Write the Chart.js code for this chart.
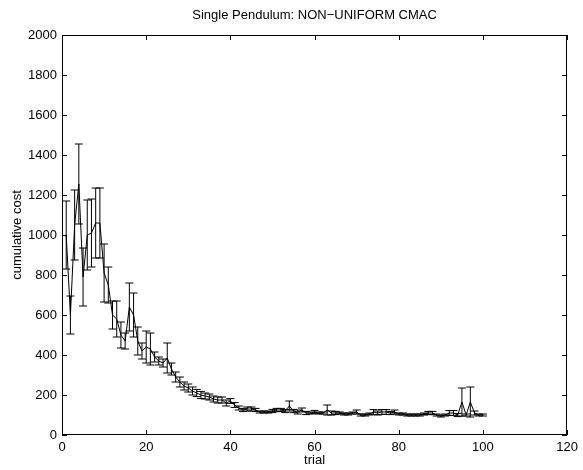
<!DOCTYPE html>
<html>
<head>
<meta charset="utf-8">
<script src="https://cdn.jsdelivr.net/npm/chart.js@4"></script>
<style>
html,body{margin:0;padding:0;background:#fff;}
#wrap{width:583px;height:470px;position:relative;}
</style>
</head>
<body>
<div id="wrap"><canvas id="c" width="583" height="470"></canvas></div>
<script>
const chartTitle = 'Single Pendulum: NON\u2212UNIFORM CMAC';
const xLabel = 'trial';
const yLabel = 'cumulative cost';

const trials = [1,2,3,4,5,6,7,8,9,10,11,12,13,14,15,16,17,18,19,20,
21,22,23,24,25,26,27,28,29,30,31,32,33,34,35,36,37,38,39,40,
41,42,43,44,45,46,47,48,49,50,51,52,53,54,55,56,57,58,59,60,
61,62,63,64,65,66,67,68,69,70,71,72,73,74,75,76,77,78,79,80,
81,82,83,84,85,86,87,88,89,90,91,92,93,94,95,96,97,98,99,100];

const meanCost = [1000,600,1050,1255,790,1000,1010,1060,1060,810,
750,600,580,500,470,640,600,470,420,440,
430,390,370,360,385,330,290,265,245,235,
220,210,200,195,190,180,175,175,160,170,
150,135,125,130,130,125,115,115,115,120,
125,125,120,145,120,115,125,110,110,115,
110,110,125,110,110,110,105,105,110,115,
100,100,105,115,110,115,115,110,115,105,
105,100,100,100,100,105,110,110,100,95,
100,110,110,100,165,100,165,110,100,100];

const errCost = [170,95,175,200,145,175,170,175,175,145,
90,70,90,65,40,120,110,70,40,80,
80,25,20,20,75,30,25,25,20,20,
20,18,18,15,15,15,15,15,15,12,
12,10,8,10,10,8,5,5,5,8,
8,8,8,25,8,10,10,8,5,8,
5,5,25,10,8,5,5,5,5,10,
5,5,5,12,10,12,12,8,10,5,
5,5,5,5,5,5,8,8,5,5,
5,12,12,8,70,5,75,10,5,5];

const xTicks = [0,20,40,60,80,100,120];
const yTicks = [0,200,400,600,800,1000,1200,1400,1600,1800,2000];

const FONT = 'Liberation Sans, Arial, Helvetica, sans-serif';
const FS = 13;

const framePlugin = {
  id: 'frame',
  afterDatasetsDraw(chart) {
    const {ctx, chartArea: a, scales: {x, y}} = chart;
    ctx.save();
    ctx.strokeStyle = '#000';
    ctx.lineWidth = 1;
    ctx.beginPath();
    for (let i = 0; i < trials.length; i++) {
      const px = x.getPixelForValue(trials[i]);
      const yt = y.getPixelForValue(meanCost[i] + errCost[i]);
      const yb = y.getPixelForValue(meanCost[i] - errCost[i]);
      ctx.moveTo(px, yt); ctx.lineTo(px, yb);
      ctx.moveTo(px - 4, yt); ctx.lineTo(px + 4, yt);
      ctx.moveTo(px - 4, yb); ctx.lineTo(px + 4, yb);
    }
    ctx.stroke();
    ctx.strokeRect(Math.round(a.left) + 0.5, Math.round(a.top) + 0.5,
      Math.round(a.right - a.left) - 1, Math.round(a.bottom - a.top) - 1);
    const tl = 5;
    ctx.beginPath();
    xTicks.forEach(v => {
      const px = Math.round(x.getPixelForValue(v)) + 0.5;
      ctx.moveTo(px, a.bottom); ctx.lineTo(px, a.bottom - tl);
      ctx.moveTo(px, a.top); ctx.lineTo(px, a.top + tl);
    });
    yTicks.forEach(v => {
      const py = Math.round(y.getPixelForValue(v)) + 0.5;
      ctx.moveTo(a.left, py); ctx.lineTo(a.left + tl, py);
      ctx.moveTo(a.right, py); ctx.lineTo(a.right - tl, py);
    });
    ctx.stroke();
    ctx.fillStyle = '#000';
    ctx.font = FS + 'px ' + FONT;
    ctx.textAlign = 'center';
    ctx.textBaseline = 'middle';
    ctx.fillText(chartTitle, (a.left + a.right) / 2, 15);
    ctx.restore();
  }
};

new Chart(document.getElementById('c'), {
  type: 'line',
  data: {
    datasets: [{
      data: trials.map((t, i) => ({x: t, y: meanCost[i]})),
      borderColor: '#000',
      borderWidth: 1,
      pointRadius: 0,
      tension: 0,
      fill: false
    }]
  },
  options: {
    responsive: false,
    animation: false,
    devicePixelRatio: 1,
    layout: {padding: {top: 35, right: 11, left: 0, bottom: 0}},
    plugins: {legend: {display: false}, tooltip: {enabled: false}, title: {display: false}},
    scales: {
      x: {
        type: 'linear', min: 0, max: 120,
        afterBuildTicks(s) { s.ticks = xTicks.map(v => ({value: v})); },
        ticks: {color: '#000', font: {family: FONT, size: FS}, padding: 5, maxRotation: 0,
          callback: v => String(v)},
        grid: {display: false, drawTicks: false},
        border: {display: false},
        title: {display: true, text: xLabel, color: '#000', font: {family: FONT, size: FS}, padding: {top: 0, bottom: 2}},
        afterFit(s) { s.height = 35; }
      },
      y: {
        type: 'linear', min: 0, max: 2000,
        afterBuildTicks(s) { s.ticks = yTicks.map(v => ({value: v})); },
        ticks: {color: '#000', font: {family: FONT, size: FS}, padding: 5,
          callback: v => String(v)},
        grid: {display: false, drawTicks: false},
        border: {display: false},
        title: {display: true, text: yLabel, color: '#000', font: {family: FONT, size: FS}, padding: {top: 10, bottom: 0}},
        afterFit(s) { s.width = 62; }
      }
    }
  },
  plugins: [framePlugin]
});
</script>
</body>
</html>
